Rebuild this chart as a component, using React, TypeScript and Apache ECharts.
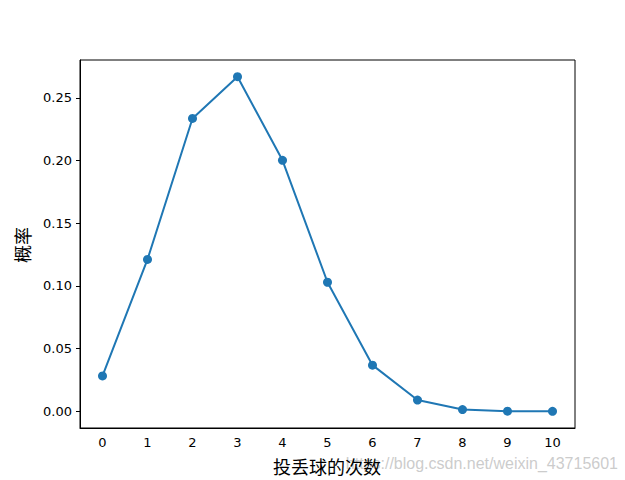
import React, { useEffect, useRef } from "react";
import * as echarts from "echarts";

const categories = ["0", "1", "2", "3", "4", "5", "6", "7", "8", "9", "10"];
const probabilities = [0.0282, 0.1211, 0.2335, 0.2668, 0.2001, 0.1029, 0.0368, 0.009, 0.0014, 0.0001, 0.0];
const yTicks = [0, 0.05, 0.1, 0.15, 0.2, 0.25];
const xLabel = "投丢球的次数";
const yLabel = "概率";
const watermark = "https://blog.csdn.net/weixin_43715601";

export default function App() {
  const ref = useRef<HTMLDivElement>(null);
  useEffect(() => {
    const chart = echarts.init(ref.current!, null, { renderer: "svg" });
    chart.setOption({
      animation: false,
      backgroundColor: "#ffffff",
      grid: {
        left: 80,
        right: 50,
        top: 60,
        bottom: 52,
        show: true,
        borderColor: "#000",
        borderWidth: 1,
        backgroundColor: "transparent",
      },
      xAxis: {
        type: "category",
        data: categories,
        boundaryGap: true,
        axisLine: { onZero: false, lineStyle: { color: "#000", width: 1 } },
        axisTick: { alignWithLabel: true, length: 4, lineStyle: { color: "#000" } },
        axisLabel: { color: "#000", fontSize: 13, fontFamily: "DejaVu Sans", margin: 8 },
        splitLine: { show: false },
      },
      yAxis: {
        type: "value",
        min: -0.0133,
        max: 0.2801,
        axisLine: { show: true, onZero: false, lineStyle: { color: "#000", width: 1 } },
        axisTick: { show: true, length: 4, customValues: yTicks, lineStyle: { color: "#000" } },
        axisLabel: {
          color: "#000",
          fontSize: 13,
          fontFamily: "DejaVu Sans",
          margin: 8,
          customValues: yTicks,
          formatter: (v: number) => v.toFixed(2),
        },
        splitLine: { show: false },
      },
      graphic: [
        {
          type: "text",
          style: {
            text: watermark,
            x: 618,
            y: 463,
            align: "right",
            verticalAlign: "middle",
            fill: "rgba(190,190,190,0.8)",
            fontSize: 16,
            fontFamily: "Liberation Sans",
          },
        },
        {
          type: "text",
          style: {
            text: xLabel,
            x: 327,
            y: 466,
            align: "center",
            verticalAlign: "middle",
            fill: "#000",
            fontSize: 18,
            fontFamily: "Noto Sans CJK SC",
          },
        },
        {
          type: "text",
          x: 22,
          y: 245,
          rotation: Math.PI / 2,
          style: {
            text: yLabel,
            x: 0,
            y: 0,
            align: "center",
            verticalAlign: "middle",
            fill: "#000",
            fontSize: 18,
            fontFamily: "Noto Sans CJK SC",
          },
        },
      ],
      series: [
        {
          type: "line",
          data: probabilities,
          symbol: "circle",
          symbolSize: 9,
          itemStyle: { color: "#1f77b4" },
          lineStyle: { color: "#1f77b4", width: 2 },
        },
      ],
    });
    return () => chart.dispose();
  }, []);
  return (
    <div
      ref={ref}
      style={{ position: "fixed", left: 0, top: 0, width: 625, height: 480 }}
    />
  );
}
